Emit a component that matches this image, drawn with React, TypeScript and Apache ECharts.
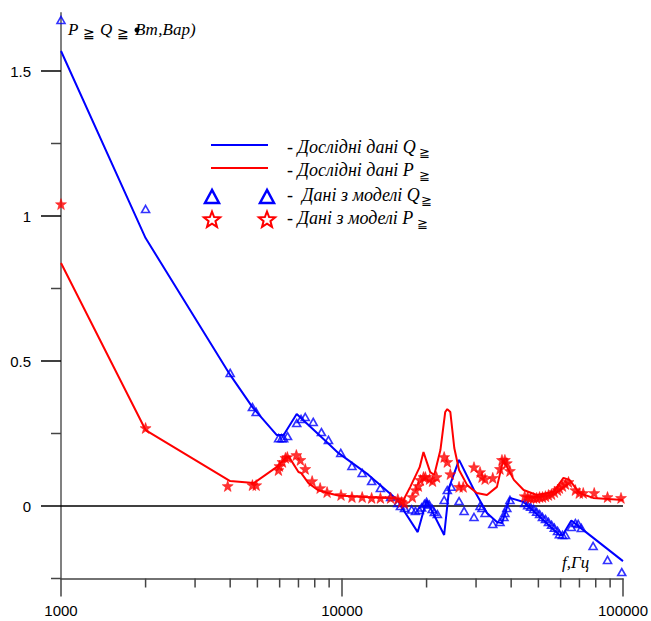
import React, { useEffect, useRef } from "react";
import * as echarts from "echarts";

// Experimental Q (blue line)
const qExpFreq = [1000, 2000, 4000, 4800, 5850, 6200, 6900, 7400, 8900, 9700, 12400, 15800, 16200, 18600, 20000, 23100, 24100, 26100, 29500, 32800, 35600, 37100, 39600, 44300, 59400, 61000, 65500, 69900, 100000];
const qExpVal = [1.569, 0.924, 0.452, 0.341, 0.245, 0.245, 0.317, 0.29, 0.217, 0.183, 0.108, 0.02, 0.0, -0.09, 0.02, -0.1, 0.066, 0.159, 0.055, -0.024, -0.055, -0.059, 0.028, 0.014, -0.1, -0.1, -0.05, -0.072, -0.19];

// Experimental P (red line)
const pExpFreq = [1000, 2000, 4000, 4850, 5850, 6300, 6450, 7000, 7150, 7600, 8200, 8900, 9700, 12000, 15800, 16500, 17500, 18900, 19500, 20600, 21300, 22400, 23300, 23700, 24300, 25100, 26100, 27900, 30200, 32800, 35600, 37500, 40900, 44300, 49300, 56600, 61400, 64500, 69900, 78300, 100000];
const pExpVal = [0.838, 0.262, 0.086, 0.079, 0.134, 0.166, 0.172, 0.117, 0.114, 0.079, 0.055, 0.045, 0.036, 0.031, 0.026, 0.018, 0.066, 0.134, 0.186, 0.117, 0.107, 0.193, 0.324, 0.334, 0.324, 0.2, 0.124, 0.072, 0.045, 0.038, 0.066, 0.159, 0.09, 0.055, 0.038, 0.048, 0.097, 0.09, 0.045, 0.028, 0.021];

// Model Q (blue triangles)
const qModFreq = [1000, 2000, 4000, 4800, 4950, 5950, 6100, 6200, 6400, 6900, 7150, 7400, 7900, 8450, 8950, 9900, 10850, 11800, 12750, 13700, 14900, 15800, 16150, 16700, 17700, 18250, 18850, 19200, 19650, 20000, 20450, 20950, 21300, 21850, 23100, 23700, 24500, 26100, 27200, 29500, 31000, 31500, 32300, 34400, 36500, 37700, 38000, 38600, 39600, 44700, 45800, 46900, 48100, 49300, 50500, 51700, 53000, 54300, 55700, 57000, 58500, 59400, 60900, 62400, 65500, 67700, 69300, 71100, 78300, 88100, 99000];
const qModVal = [1.676, 1.024, 0.459, 0.341, 0.324, 0.234, 0.234, 0.234, 0.241, 0.286, 0.3, 0.307, 0.29, 0.255, 0.228, 0.183, 0.138, 0.114, 0.086, 0.062, 0.031, 0.01, 0.0, -0.007, -0.012, -0.017, -0.014, -0.005, 0.007, 0.014, 0.005, -0.01, -0.021, -0.028, 0.021, 0.055, 0.066, 0.017, -0.017, -0.038, 0.0, -0.007, -0.024, -0.062, -0.055, -0.038, -0.024, -0.007, 0.021, 0.01, 0.003, -0.003, -0.01, -0.02, -0.028, -0.038, -0.045, -0.055, -0.065, -0.075, -0.086, -0.097, -0.1, -0.1, -0.072, -0.059, -0.062, -0.076, -0.138, -0.186, -0.228];

// Model P (red stars)
const pModFreq = [1000, 2000, 3920, 4800, 4950, 5940, 5990, 6140, 6290, 6390, 6880, 7110, 7400, 7830, 8360, 8850, 9920, 10850, 11800, 12750, 13700, 14900, 15800, 16300, 16700, 17800, 18300, 18700, 19000, 19500, 19800, 20500, 21000, 21700, 23100, 23700, 24300, 26100, 27000, 29500, 31000, 31500, 32300, 34400, 36500, 37100, 38000, 38600, 39600, 44700, 45800, 46900, 48100, 49300, 50500, 51700, 53000, 54300, 55700, 57000, 58500, 59400, 60900, 62400, 64000, 67700, 69900, 72200, 79000, 88100, 98400];
const pModVal = [1.041, 0.269, 0.069, 0.072, 0.072, 0.124, 0.138, 0.152, 0.166, 0.169, 0.176, 0.159, 0.128, 0.086, 0.062, 0.048, 0.038, 0.031, 0.031, 0.028, 0.028, 0.028, 0.024, 0.014, 0.01, 0.031, 0.055, 0.069, 0.09, 0.1, 0.1, 0.093, 0.086, 0.1, 0.169, 0.152, 0.11, 0.066, 0.066, 0.134, 0.117, 0.1, 0.093, 0.097, 0.128, 0.159, 0.159, 0.148, 0.121, 0.034, 0.031, 0.028, 0.028, 0.028, 0.031, 0.031, 0.034, 0.038, 0.041, 0.048, 0.055, 0.062, 0.069, 0.076, 0.083, 0.055, 0.045, 0.045, 0.045, 0.031, 0.028];

// Axis ticks
const yMajorTicks = [0, 0.5, 1, 1.5];
const yMinorTicks = [-0.25, 0.25, 0.75, 1.25];
const xMinorTicks = [2000, 3000, 4000, 5000, 6000, 7000, 8000, 9000, 20000, 30000, 40000, 50000, 60000, 70000, 80000, 90000];

// Texts
const legendLabels = ["- Дослідні дані Q", "- Дослідні дані P", "-  Дані з моделі Q", "- Дані з моделі P"];
const subGlyph = "≧";
const xTitle = "f,Гц";

const STAR = "path://M50,0L61.76,33.82L97.55,34.55L69.02,56.18L79.39,90.45L50,70L20.61,90.45L30.98,56.18L2.45,34.55L38.24,33.82Z";

function starPoints(cx: number, cy: number, R: number, r: number) {
  const pts: number[][] = [];
  for (let k = 0; k < 10; k++) {
    const a = (-90 + k * 36) * Math.PI / 180;
    const rad = k % 2 === 0 ? R : r;
    pts.push([cx + rad * Math.cos(a), cy + rad * Math.sin(a)]);
  }
  return pts;
}

export default function App() {
  const ref = useRef<HTMLDivElement>(null);
  useEffect(() => {
    document.body.style.margin = "0";
    const chart = echarts.init(ref.current as HTMLDivElement, null, { renderer: "svg" });
    const serif = '"Liberation Serif", "Times New Roman", serif';
    const sans = '"Liberation Sans", Arial, sans-serif';
    const pairs = (xs: number[], ys: number[]) => xs.map((x, i) => [x, ys[i]]);
    const italic = (size: number) => `italic ${size}px ${serif}`;

    const legendRowsY = [147, 170, 195, 218];
    const glyphX = [419, 419, 421, 417];
    const graphic: any[] = [
      { type: "line", shape: { x1: 211, y1: 145, x2: 268, y2: 145 }, style: { stroke: "#0000ff", lineWidth: 2 } },
      { type: "line", shape: { x1: 211, y1: 168, x2: 268, y2: 168 }, style: { stroke: "#ff0000", lineWidth: 2 } },
      { type: "polygon", shape: { points: [[212, 190], [205, 203], [219, 203]] }, style: { stroke: "#0000ff", fill: "none", lineWidth: 2.5 } },
      { type: "polygon", shape: { points: [[267, 190], [260, 203], [274, 203]] }, style: { stroke: "#0000ff", fill: "none", lineWidth: 2.5 } },
      { type: "polygon", shape: { points: starPoints(212, 220, 8.5, 3.6) }, style: { stroke: "#ff0000", fill: "#fff", lineWidth: 2 } },
      { type: "polygon", shape: { points: starPoints(267, 220, 8.5, 3.6) }, style: { stroke: "#ff0000", fill: "#fff", lineWidth: 2 } },
    ];
    legendLabels.forEach((t, i) => {
      graphic.push({ type: "text", x: 287, y: legendRowsY[i], style: { text: t, font: italic(18), fill: "#000", verticalAlign: "middle" } });
    });
    glyphX.forEach((x, i) => {
      graphic.push({ type: "text", x, y: legendRowsY[i] + 5, style: { text: subGlyph, font: `13px ${sans}`, fill: "#000", verticalAlign: "middle" } });
    });
    // y axis title
    graphic.push({ type: "text", x: 68, y: 29, style: { text: "P", font: italic(17), fill: "#000", verticalAlign: "middle" } });
    graphic.push({ type: "text", x: 83, y: 33, style: { text: subGlyph, font: `14px ${sans}`, fill: "#000", verticalAlign: "middle" } });
    graphic.push({ type: "text", x: 100, y: 29, style: { text: "Q", font: italic(17), fill: "#000", verticalAlign: "middle" } });
    graphic.push({ type: "text", x: 117, y: 33, style: { text: subGlyph, font: `14px ${sans}`, fill: "#000", verticalAlign: "middle" } });
    graphic.push({ type: "text", x: 135, y: 29, style: { text: "Вт,Вар)", font: italic(17), fill: "#000", verticalAlign: "middle" } });
    graphic.push({ type: "circle", shape: { cx: 137, cy: 30, r: 2.5 }, style: { fill: "#000" } });
    // x axis title
    graphic.push({ type: "text", x: 562, y: 562, style: { text: xTitle, font: italic(17), fill: "#000", verticalAlign: "middle" } });

    const yTick = (len: number, color: string) => (params: any, api: any) => {
      const p = api.coord([api.value(0), api.value(1)]);
      return { type: "line", shape: { x1: p[0] - len, y1: p[1], x2: p[0], y2: p[1] }, style: { stroke: color, lineWidth: 1.5 } };
    };
    const xTick = (len: number, color: string) => (params: any, api: any) => {
      const p = api.coord([api.value(0), api.value(1)]);
      return { type: "line", shape: { x1: p[0], y1: p[1], x2: p[0], y2: p[1] + len }, style: { stroke: color, lineWidth: 1.5 } };
    };

    chart.setOption({
      animation: false,
      grid: { left: 61, right: 24, top: 13, bottom: 42.5 },
      xAxis: {
        type: "log",
        logBase: 10,
        min: 1000,
        max: 100000,
        axisLine: { show: true, onZero: false, lineStyle: { color: "#444", width: 1.5 } },
        axisTick: { show: true, length: 18, lineStyle: { color: "#444", width: 1.5 } },
        axisLabel: { margin: 24, fontSize: 15, color: "#000", fontFamily: sans, formatter: (v: number) => String(Math.round(v)) },
        splitLine: { show: false },
      },
      yAxis: {
        type: "value",
        min: -0.25,
        max: 1.7,
        interval: 0.25,
        axisLine: { show: true, onZero: false, lineStyle: { color: "#808080", width: 2 } },
        axisTick: { show: false },
        axisLabel: {
          margin: 30,
          fontSize: 15,
          color: "#000",
          fontFamily: sans,
          formatter: (v: number) => (Math.abs(v / 0.5 - Math.round(v / 0.5)) < 1e-6 ? String(v) : ""),
        },
        splitLine: { show: false },
      },
      graphic,
      series: [
        { type: "line", data: [[1000, 0], [100000, 0]], symbol: "none", silent: true, lineStyle: { color: "#000", width: 1.5 }, z: 1 },
        { type: "custom", silent: true, clip: false, data: yMajorTicks.map((v) => [1000, v]), renderItem: yTick(20, "#000"), z: 3 },
        { type: "custom", silent: true, clip: false, data: yMinorTicks.map((v) => [1000, v]), renderItem: yTick(10, "#444"), z: 3 },
        { type: "custom", silent: true, clip: false, data: xMinorTicks.map((v) => [v, -0.25]), renderItem: xTick(9, "#444"), z: 3 },
        { type: "line", name: "Q exp", data: pairs(qExpFreq, qExpVal), symbol: "none", lineStyle: { color: "#0000ff", width: 2 }, z: 4 },
        { type: "line", name: "P exp", data: pairs(pExpFreq, pExpVal), symbol: "none", lineStyle: { color: "#ff0000", width: 2 }, z: 4 },
        {
          type: "scatter", name: "Q model", data: pairs(qModFreq, qModVal), clip: false,
          symbol: "triangle", symbolSize: [8, 7],
          itemStyle: { color: "rgba(255,255,255,0)", borderColor: "#0000ff", borderWidth: 1.6 }, z: 5,
        },
        {
          type: "scatter", name: "P model", data: pairs(pModFreq, pModVal), clip: false,
          symbol: STAR, symbolSize: [11, 11],
          itemStyle: { color: "#ff0000", borderColor: "#ff0000", borderWidth: 0.6 }, z: 5,
        },
      ],
    });
    return () => chart.dispose();
  }, []);
  return <div ref={ref} style={{ width: 651, height: 621 }} />;
}
